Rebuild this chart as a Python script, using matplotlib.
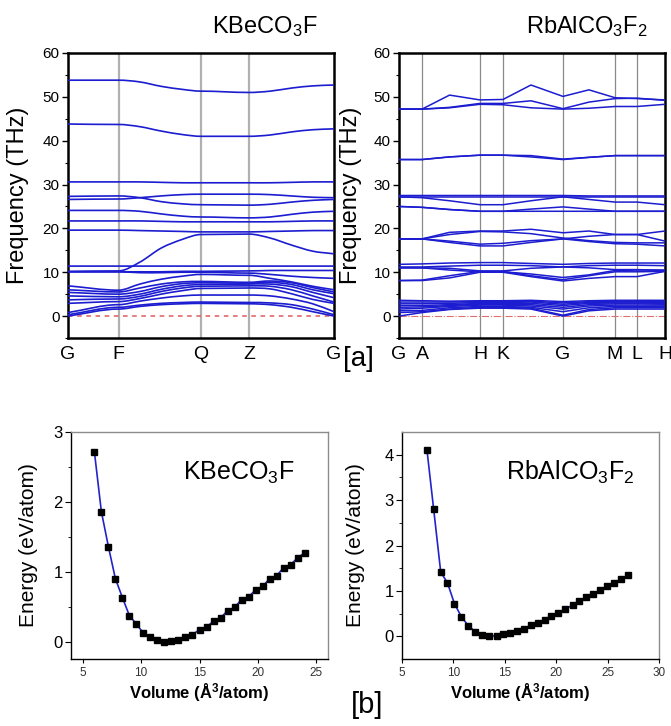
import numpy as np
import matplotlib
matplotlib.use("Agg")
import matplotlib.pyplot as plt
from matplotlib.path import Path
from matplotlib.patches import PathPatch

plt.rcParams['font.family'] = ['Liberation Sans', 'DejaVu Sans']
plt.rcParams['mathtext.fontset'] = 'custom'
plt.rcParams['mathtext.rm'] = 'Liberation Sans'
plt.rcParams['mathtext.bf'] = 'Liberation Sans:bold'
plt.rcParams['mathtext.it'] = 'Liberation Sans:italic'

# ---------------- data: KBeCO3F phonons ----------------
kbe_kpos = [0, 0.19, 0.27, 0.35, 0.43, 0.50, 0.68, 0.76, 0.84, 0.92, 1.0]
kbe_node_idx = [0, 1, 5, 6, 10]
kbe_tick_labels = ['G', 'F', 'Q', 'Z', 'G']

kbe_low_bands = [
    [0.0, 1.6, 2.2, 2.6, 2.8, 2.9, 2.8, 2.6, 2.0, 1.0, 0.0],
    [0.3, 2.0, 2.5, 2.9, 3.1, 3.2, 3.1, 3.0, 2.6, 1.6, 0.3],
    [0.8, 2.6, 3.4, 4.1, 4.6, 4.8, 4.8, 4.6, 3.9, 2.8, 1.0],
    [2.9, 3.3, 4.0, 5.0, 5.8, 6.3, 6.4, 6.2, 5.1, 3.8, 2.9],
    [3.7, 3.9, 4.5, 5.6, 6.4, 6.8, 6.9, 6.8, 6.0, 4.6, 3.2],
    [4.6, 4.4, 5.0, 6.1, 6.9, 7.2, 7.3, 7.3, 6.7, 5.4, 4.2],
    [5.4, 5.0, 5.6, 6.7, 7.4, 7.6, 7.5, 7.7, 7.2, 6.0, 5.1],
    [6.0, 5.5, 6.4, 7.3, 7.8, 7.9, 7.7, 8.0, 7.6, 6.5, 5.5],
    [6.9, 5.9, 7.3, 8.4, 9.1, 9.5, 9.3, 8.6, 7.8, 6.8, 6.0],
]
kbe_mid_bands = [
    [10.1, 10.1, 9.9, 9.9, 10.0, 10.0, 9.8, 9.5, 9.1, 8.8, 8.6],
    [10.1, 10.1, 10.1, 10.1, 10.2, 10.2, 10.3, 10.4, 10.4, 10.4, 10.4],
    [10.2, 10.3, 12.3, 15.5, 17.5, 18.6, 18.7, 17.8, 16.2, 14.8, 14.2],
    [11.4, 11.4, 11.4, 11.4, 11.4, 11.4, 11.4, 11.4, 11.4, 11.4, 11.4],
    [19.6, 19.6, 19.5, 19.4, 19.3, 19.2, 19.2, 19.3, 19.4, 19.5, 19.5],
    [21.7, 21.7, 21.7, 21.6, 21.5, 21.5, 21.5, 21.5, 21.6, 21.7, 21.7],
    [24.1, 24.1, 23.9, 23.3, 22.8, 22.6, 22.4, 22.6, 23.2, 23.7, 23.9],
    [26.6, 26.7, 27.0, 27.4, 27.7, 27.8, 27.8, 27.7, 27.4, 27.1, 27.0],
    [27.3, 27.4, 27.0, 26.1, 25.6, 25.4, 25.3, 25.5, 26.0, 26.4, 26.6],
]
kbe_high_bands = [
    [30.6, 30.6, 30.6, 30.5, 30.4, 30.4, 30.4, 30.4, 30.5, 30.6, 30.6],
    [43.8, 43.7, 43.2, 42.2, 41.4, 41.0, 41.0, 41.3, 42.0, 42.5, 42.7],
    [53.8, 53.8, 53.4, 52.4, 51.7, 51.3, 51.0, 51.3, 52.0, 52.5, 52.7],
]

# ---------------- data: RbAlCO3F2 phonons ----------------
rb_kpos = [0, 0.0865, 0.19, 0.3045, 0.391, 0.496, 0.6165, 0.714, 0.812, 0.895, 1.0]
rb_node_idx = [0, 1, 3, 4, 6, 8, 9, 10]
rb_tick_labels = ['G', 'A', 'H', 'K', 'G', 'M', 'L', 'H']

rb_low_bands = [
    [0.0, 0.8, 1.5, 1.8, 1.8, 1.6, 0.0, 1.2, 1.6, 1.6, 1.6],
    [0.8, 1.0, 1.6, 2.0, 2.0, 1.8, 0.2, 1.5, 1.9, 1.9, 1.9],
    [1.2, 1.3, 1.9, 2.2, 2.2, 2.0, 1.0, 1.9, 2.2, 2.2, 2.2],
    [1.6, 1.8, 2.2, 2.5, 2.5, 2.3, 1.6, 2.3, 2.5, 2.5, 2.5],
    [2.0, 2.1, 2.4, 2.7, 2.7, 2.6, 2.0, 2.6, 2.8, 2.8, 2.7],
    [2.4, 2.4, 2.6, 2.9, 2.9, 2.9, 2.4, 2.9, 3.0, 3.0, 2.9],
    [2.8, 2.8, 2.9, 3.1, 3.1, 3.2, 2.7, 3.1, 3.2, 3.2, 3.1],
    [3.2, 3.2, 3.2, 3.3, 3.3, 3.4, 3.0, 3.3, 3.4, 3.4, 3.3],
    [3.6, 3.5, 3.4, 3.5, 3.5, 3.6, 3.3, 3.5, 3.6, 3.6, 3.6],
]
rb_mid_bands = [
    [11.8, 11.9, 12.1, 12.2, 12.2, 12.0, 11.8, 12.0, 12.1, 12.1, 12.1],
    [11.2, 11.2, 11.4, 11.6, 11.6, 11.5, 11.2, 11.5, 11.6, 11.6, 11.5],
    [11.0, 11.0, 10.9, 10.3, 10.3, 10.9, 11.2, 11.0, 10.6, 10.6, 10.4],
    [8.1, 8.2, 9.2, 10.2, 10.2, 9.2, 8.3, 9.2, 10.1, 10.1, 10.2],
    [8.1, 8.1, 8.7, 10.0, 10.0, 9.0, 8.0, 8.6, 9.0, 9.0, 10.2],
    [11.0, 11.0, 10.5, 10.1, 10.1, 9.6, 8.8, 9.4, 10.4, 10.5, 10.5],
    [17.6, 17.6, 19.1, 19.4, 19.4, 19.8, 19.0, 19.4, 18.6, 18.6, 19.4],
    [17.6, 17.6, 17.1, 16.4, 16.6, 17.2, 17.6, 18.2, 18.6, 18.6, 17.1],
    [17.6, 17.6, 16.8, 16.0, 16.0, 16.8, 17.6, 17.0, 16.5, 16.4, 16.0],
    [17.6, 17.6, 18.6, 19.3, 19.2, 18.8, 17.8, 17.2, 16.8, 16.7, 16.7],
    [25.0, 24.8, 24.3, 23.9, 23.9, 24.4, 24.9, 24.4, 23.9, 23.9, 23.9],
    [25.0, 24.8, 24.3, 23.9, 23.9, 23.9, 23.9, 23.9, 23.9, 23.9, 23.9],
    [27.5, 27.5, 27.5, 27.5, 27.5, 27.5, 27.5, 27.4, 27.4, 27.4, 27.4],
    [27.2, 27.2, 27.2, 27.2, 27.2, 27.2, 27.2, 27.2, 27.2, 27.2, 27.2],
    [27.2, 27.0, 26.3, 25.4, 25.4, 26.3, 27.2, 26.6, 26.0, 26.0, 25.4],
]
rb_high_bands = [
    [35.7, 35.7, 36.3, 36.7, 36.7, 36.3, 35.7, 36.2, 36.6, 36.6, 36.6],
    [35.7, 35.7, 36.3, 36.7, 36.7, 36.6, 35.8, 36.2, 36.6, 36.6, 36.6],
    [47.2, 47.2, 47.5, 48.3, 48.2, 47.5, 47.2, 47.4, 47.8, 47.8, 48.3],
    [47.2, 47.2, 47.6, 48.5, 48.5, 49.1, 47.3, 48.8, 49.6, 49.7, 49.2],
    [47.2, 47.2, 50.4, 49.3, 49.4, 52.7, 50.1, 51.6, 49.8, 49.6, 49.3],
]

# ---------------- data: E-V curves ----------------
kbe_volume = [6.0, 6.6, 7.2, 7.8, 8.4, 9.0, 9.6, 10.2, 10.8, 11.4, 12.0, 12.6, 13.2,
              13.8, 14.4, 15.0, 15.6, 16.2, 16.8, 17.4, 18.0, 18.6, 19.2, 19.8, 20.4,
              21.0, 21.6, 22.2, 22.8, 23.4, 24.0]
kbe_energy = [2.72, 1.86, 1.36, 0.90, 0.63, 0.37, 0.25, 0.12, 0.06, 0.02, 0.0, 0.01, 0.02,
              0.07, 0.10, 0.17, 0.21, 0.29, 0.34, 0.44, 0.49, 0.60, 0.64, 0.74, 0.79,
              0.90, 0.94, 1.06, 1.10, 1.20, 1.27]
rb_volume = [7.43, 8.08, 8.77, 9.42, 10.1, 10.78, 11.46, 12.14, 12.8, 13.5, 14.2, 14.8,
             15.5, 16.2, 16.85, 17.5, 18.2, 18.9, 19.5, 20.2, 20.9, 21.6, 22.2, 22.9,
             23.6, 24.25, 24.9, 25.6, 26.3, 27.0]
rb_energy = [4.10, 2.80, 1.41, 1.18, 0.72, 0.43, 0.23, 0.10, 0.02, 0.0, 0.01, 0.04,
             0.07, 0.12, 0.17, 0.24, 0.29, 0.37, 0.45, 0.52, 0.60, 0.69, 0.77, 0.86,
             0.93, 1.02, 1.10, 1.18, 1.26, 1.34]

BAND_COLOR = '#1c1cd0'
W, H = 671, 726
fig = plt.figure(figsize=(W / 100, H / 100), dpi=100)


def ax_at(l, t, r, b):
    return fig.add_axes([l / W, 1 - b / H, (r - l) / W, (b - t) / H])


def smooth_band(ax, x, y, nodes):
    x = np.asarray(x, float)
    y = np.asarray(y, float)
    n = len(x)
    m = np.zeros(n)
    for i in range(n):
        if i == 0:
            m[i] = (y[1] - y[0]) / (x[1] - x[0])
        elif i == n - 1:
            m[i] = (y[-1] - y[-2]) / (x[-1] - x[-2])
        elif i in nodes:
            m[i] = 0.0
        else:
            m[i] = (y[i + 1] - y[i - 1]) / (x[i + 1] - x[i - 1])
    verts = [(x[0], y[0])]
    codes = [Path.MOVETO]
    for i in range(n - 1):
        h = x[i + 1] - x[i]
        verts += [(x[i] + h / 3, y[i] + m[i] * h / 3),
                  (x[i + 1] - h / 3, y[i + 1] - m[i + 1] * h / 3),
                  (x[i + 1], y[i + 1])]
        codes += [Path.CURVE4] * 3
    ax.add_patch(PathPatch(Path(verts, codes), fill=False, edgecolor=BAND_COLOR,
                           lw=1.2, zorder=3))


def style_phonon(ax, kpos, nodes, labels, vcolor, vlw, zcolor, zls, zlw):
    ax.set_xlim(0, 1)
    ax.set_ylim(-5, 60)
    for i in nodes[1:-1]:
        ax.axvline(kpos[i], color=vcolor, lw=vlw, zorder=1)
    ax.axhline(0, color=zcolor, ls=zls, lw=zlw, zorder=2)
    ax.set_xticks([kpos[i] for i in nodes])
    ax.set_xticklabels(labels, fontsize=14)
    ax.tick_params(axis='x', length=0, pad=6)
    ax.set_yticks([0, 10, 20, 30, 40, 50, 60])
    ax.set_yticks([-5, 5, 15, 25, 35, 45, 55], minor=True)
    ax.tick_params(axis='y', which='major', length=4, width=1, labelsize=11, pad=2)
    ax.tick_params(axis='y', which='minor', length=2, width=0.8)
    for s in ax.spines.values():
        s.set_linewidth(1.8)
    ax.set_ylabel('Frequency (THz)', fontsize=17)


# ---- top-left ----
ax1 = ax_at(68, 53, 334, 338)
for b in kbe_low_bands + kbe_mid_bands + kbe_high_bands:
    smooth_band(ax1, kbe_kpos, b, kbe_node_idx)
style_phonon(ax1, kbe_kpos, kbe_node_idx, kbe_tick_labels, '#b0b0b0', 1.6,
             '#e05a5a', (0, (3, 3)), 1.1)
ax1.yaxis.set_label_coords(-0.145, 0.5)

# ---- top-right ----
ax2 = ax_at(399, 53, 665, 338)
for b in rb_low_bands + rb_mid_bands + rb_high_bands:
    ax2.plot(rb_kpos, b, color=BAND_COLOR, lw=1.1, zorder=3)
style_phonon(ax2, rb_kpos, rb_node_idx, rb_tick_labels, '#8a8a8a', 0.9,
             '#e07070', '-.', 0.8)
ax2.yaxis.set_label_coords(-0.14, 0.5)

fig.text(265 / W, 1 - 27 / H, r'KBeCO$_\mathregular{3}$F', fontsize=17,
         ha='center', va='center')
fig.text(587 / W, 1 - 27 / H, r'RbAlCO$_\mathregular{3}$F$_\mathregular{2}$', fontsize=17,
         ha='center', va='center')
fig.text(358 / W, 1 - 359 / H, '[a]', fontsize=20, ha='center', va='center')
fig.text(367 / W, 1 - 705 / H, '[b]', fontsize=21, ha='center', va='center')


def style_ev(ax, xlim, ylim, yticks, yminor, xticks, label):
    ax.set_xlim(*xlim)
    ax.set_ylim(*ylim)
    ax.set_yticks(yticks)
    ax.set_yticks(yminor, minor=True)
    ax.set_xticks(xticks)
    ax.tick_params(axis='y', which='major', length=4, labelsize=12, pad=2)
    ax.tick_params(axis='y', which='minor', length=2)
    ax.tick_params(axis='x', length=3, labelsize=8.5, pad=3, labelcolor='#333333')
    for side in ('top', 'right'):
        ax.spines[side].set_color('#8c8c8c')
    for s in ax.spines.values():
        s.set_linewidth(1.0)
    ax.set_ylabel('Energy (eV/atom)', fontsize=15)
    ax.set_xlabel(r'Volume (Å$^\mathbf{3}$/atom)', fontsize=12, fontweight='bold')
    ax.text(0.655, 0.82, label, transform=ax.transAxes, fontsize=18,
            ha='center', va='center')


# ---- bottom-left ----
ax3 = ax_at(71, 432, 328, 659)
ax3.plot(kbe_volume, kbe_energy, color='#2323c8', lw=1.2, zorder=2)
ax3.plot(kbe_volume, kbe_energy, ls='none', marker='s', ms=5, color='black', zorder=3)
style_ev(ax3, (4, 26), (-0.25, 3), [0, 1, 2, 3], [0.5, 1.5, 2.5],
         [5, 10, 15, 20, 25], r'KBeCO$_\mathregular{3}$F')
ax3.yaxis.set_label_coords(-0.13, 0.5)
ax3.xaxis.set_label_coords(0.5, -0.1)

# ---- bottom-right ----
ax4 = ax_at(402, 432, 659, 659)
ax4.plot(rb_volume, rb_energy, color='#2323c8', lw=1.2, zorder=2)
ax4.plot(rb_volume, rb_energy, ls='none', marker='s', ms=5, color='black', zorder=3)
style_ev(ax4, (5, 30), (-0.5, 4.5), [0, 1, 2, 3, 4], [0.5, 1.5, 2.5, 3.5],
         [5, 10, 15, 20, 25, 30], r'RbAlCO$_\mathregular{3}$F$_\mathregular{2}$')
ax4.yaxis.set_label_coords(-0.145, 0.5)
ax4.xaxis.set_label_coords(0.46, -0.1)

fig.savefig('out.png', dpi=100)
